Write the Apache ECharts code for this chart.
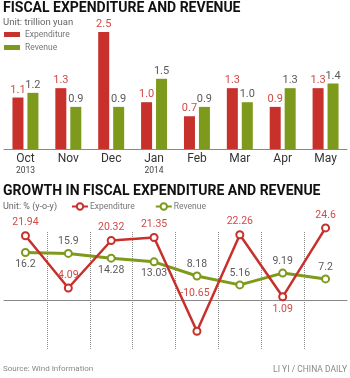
<!DOCTYPE html>
<html>
<head>
<meta charset="utf-8">
<script src="https://cdn.jsdelivr.net/npm/echarts@6/dist/echarts.min.js"></script>
<style>html,body{margin:0;padding:0;background:#fff;}#c{width:350px;height:378px;}</style>
</head>
<body>
<div id="c"></div>
<script>
const months = ['Oct','Nov','Dec','Jan','Feb','Mar','Apr','May'];
const years = ['2013','','','2014','','','',''];
const expenditure = [1.1,1.3,2.5,1.0,0.7,1.3,0.9,1.3];
const revenue = [1.2,0.9,0.9,1.5,0.9,1.0,1.3,1.4];
const expGrowth = [21.94,4.09,20.32,21.35,-10.65,22.26,1.09,24.6];
const revGrowth = [16.2,15.9,14.28,13.03,8.18,5.16,9.19,7.2];
const expGrowthText = ['21.94','4.09','20.32','21.35','-10.65','22.26','1.09','24.6'];
const revGrowthText = ['16.2','15.9','14.28','13.03','8.18','5.16','9.19','7.2'];

// label placement (style only); 'lifted' labels are drawn as a marker label well above the point
const expLabelPos = ['top','top','top','top','lifted','top','bottom','top'];
const LIFT_OFFSET = [-2,-38];
const revLabelPos = ['bottom','top','bottom','bottom','top','top','top','top'];

const FONT = "Roboto, 'Liberation Sans', sans-serif";
const RED = '#c8302b';
const GREEN = '#7d9a1c';
const RED_TXT = '#d24a45';
const GRAY_TXT = '#5a5a5a';

// layout
const PLOT_LEFT = 4, PLOT_RIGHT = 3;
const SYM = 7;
const catW = (350 - PLOT_LEFT - PLOT_RIGHT) / months.length;

const chart = echarts.init(document.getElementById('c'), null, {renderer:'canvas'});

function monthLabel(v, i){
  return years[i] ? '{m|' + v + '}\n{y|' + years[i] + '}' : '{m|' + v + '}';
}
const rich = {
  m:{fontFamily:FONT,fontSize:12,color:'#333',lineHeight:13},
  y:{fontFamily:FONT,fontSize:8.5,color:'#444',lineHeight:11}
};

const liftedPoints = [];
expLabelPos.forEach((p,i)=>{
  if(p==='lifted') liftedPoints.push({coord:[i, expGrowth[i]], name:expGrowthText[i]});
});

const option = {
  animation:false,
  backgroundColor:'#fff',
  title:[
    {text:'FISCAL EXPENDITURE AND REVENUE',left:3,top:1,padding:0,
     textStyle:{fontFamily:FONT,fontWeight:'bold',fontSize:14,color:'#111'}},
    {text:'Unit: trillion yuan',left:3,top:18,padding:0,
     textStyle:{fontFamily:FONT,fontWeight:'normal',fontSize:9.5,color:'#666'}},
    {text:'GROWTH IN FISCAL EXPENDITURE AND REVENUE',left:3,top:184,padding:0,
     textStyle:{fontFamily:FONT,fontWeight:'bold',fontSize:14,color:'#111'}},
    {text:'Unit: % (y-o-y)',left:3,top:202,padding:0,
     textStyle:{fontFamily:FONT,fontWeight:'normal',fontSize:9,color:'#666'}},
    {text:'Source: Wind Information',left:3,top:365,padding:0,
     textStyle:{fontFamily:FONT,fontWeight:'normal',fontSize:8,color:'#888'}},
    {text:'LI YI / CHINA DAILY',right:3,top:365,padding:0,
     textStyle:{fontFamily:FONT,fontWeight:'normal',fontSize:8.5,color:'#888'}}
  ],
  legend:[
    {orient:'vertical',left:4,top:30,padding:0,itemWidth:16,itemHeight:5,itemGap:4,
     data:[{name:'Expenditure',icon:'rect'},{name:'Revenue',icon:'rect'}],
     textStyle:{fontFamily:FONT,fontSize:8.5,color:'#777'}},
    {orient:'horizontal',left:71,top:202,padding:0,itemWidth:16,itemHeight:8,itemGap:18,
     data:['Expenditure ','Revenue '],
     textStyle:{fontFamily:FONT,fontSize:8.5,color:'#777',padding:[0,0,0,-3]}}
  ],
  grid:[
    {left:PLOT_LEFT,right:PLOT_RIGHT,top:8.6,height:140.4,containLabel:false,outerBoundsMode:'none'},
    {left:PLOT_LEFT,right:PLOT_RIGHT,top:212.1,height:146.5,containLabel:false,outerBoundsMode:'none'},
    {left:PLOT_LEFT+catW,right:PLOT_RIGHT+catW,top:232,height:118,containLabel:false}
  ],
  xAxis:[
    {type:'category',gridIndex:0,data:months,
     axisLine:{lineStyle:{color:'#888',width:1}},axisTick:{show:false},
     axisLabel:{interval:0,margin:3,formatter:monthLabel,rich:rich,verticalAlign:'top'}},
    {type:'category',gridIndex:1,data:months,
     axisLine:{onZero:true,lineStyle:{color:'#888',width:1}},axisTick:{show:false},
     axisLabel:{interval:0,margin:37,formatter:monthLabel,rich:rich,verticalAlign:'top'}},
    {type:'value',gridIndex:2,min:0,max:months.length-2,interval:1,
     axisLine:{show:false},axisTick:{show:false},axisLabel:{show:false},
     splitLine:{show:true,lineStyle:{color:'#8a8a8a',type:'dotted',width:1}}}
  ],
  yAxis:[
    {type:'value',gridIndex:0,min:0,max:3,show:false,splitLine:{show:false}},
    {type:'value',gridIndex:1,min:-20,max:30,show:false,splitLine:{show:false}},
    {type:'value',gridIndex:2,min:0,max:1,show:false,splitLine:{show:false}}
  ],
  series:[
    {name:'Expenditure',type:'bar',xAxisIndex:0,yAxisIndex:0,data:expenditure,
     barWidth:11,barGap:'36%',itemStyle:{color:RED},
     label:{show:true,position:'top',distance:2,fontFamily:FONT,fontSize:11,color:RED_TXT,
       formatter:p=>p.value.toFixed(1)}},
    {name:'Revenue',type:'bar',xAxisIndex:0,yAxisIndex:0,data:revenue,
     barWidth:11,barGap:'36%',itemStyle:{color:GREEN},
     label:{show:true,position:'top',distance:2,fontFamily:FONT,fontSize:11,color:GRAY_TXT,
       formatter:p=>p.value.toFixed(1)}},
    {name:'Revenue ',type:'line',xAxisIndex:1,yAxisIndex:1,z:3,
     data:revGrowth.map((v,i)=>({value:v,label:{position:revLabelPos[i]}})),
     lineStyle:{color:GREEN,width:3},itemStyle:{color:GREEN,borderWidth:1.5},
     symbol:'emptyCircle',symbolSize:SYM,
     label:{show:true,distance:2,fontFamily:FONT,fontSize:10.5,color:GRAY_TXT,
       formatter:p=>revGrowthText[p.dataIndex]}},
    {name:'Expenditure ',type:'line',xAxisIndex:1,yAxisIndex:1,z:4,
     data:expGrowth.map((v,i)=>expLabelPos[i]==='lifted'
        ? {value:v,label:{show:false}}
        : {value:v,label:{position:expLabelPos[i]}}),
     lineStyle:{color:RED,width:2.5},itemStyle:{color:RED,borderWidth:1.5},
     symbol:'emptyCircle',symbolSize:SYM,
     label:{show:true,distance:3,fontFamily:FONT,fontSize:10.5,color:RED_TXT,
       formatter:p=>expGrowthText[p.dataIndex]},
     markPoint:{
       symbol:'circle',symbolSize:1,silent:true,
       itemStyle:{color:'rgba(0,0,0,0)'},
       label:{show:true,position:'inside',offset:LIFT_OFFSET,fontFamily:FONT,fontSize:10.5,
         color:RED_TXT,formatter:p=>p.name},
       data:liftedPoints
     }}
  ]
};
chart.setOption(option);
</script>
</body>
</html>
